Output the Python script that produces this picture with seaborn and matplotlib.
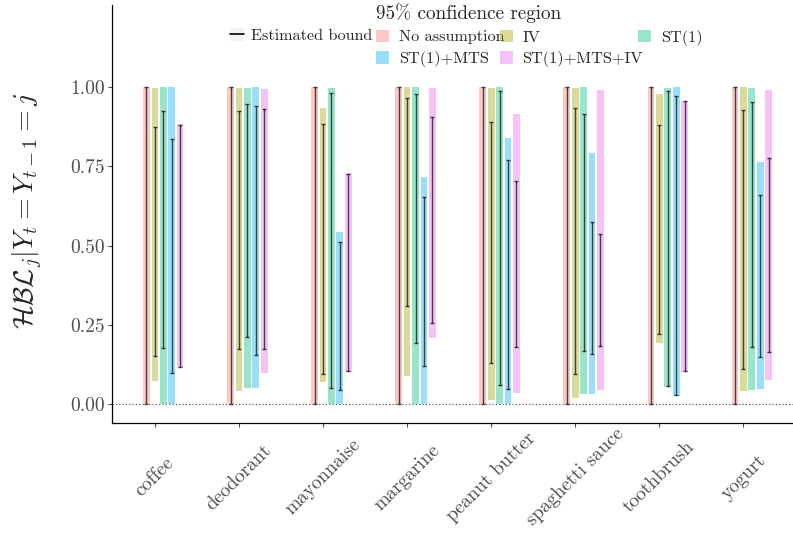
import numpy as np
import pandas as pd
import matplotlib
matplotlib.use("Agg")
import matplotlib.pyplot as plt
from matplotlib.patches import Patch
from matplotlib.lines import Line2D
import seaborn as sns

categories = ["coffee", "deodorant", "mayonnaise", "margarine", "peanut butter",
              "spaghetti sauce", "toothbrush", "yogurt"]
series = ["No assumption", "IV", "ST(1)", "ST(1)+MTS", "ST(1)+MTS+IV"]
colors = ["#F8766D", "#A3A500", "#00BF7D", "#00B0F6", "#E76BF3"]

# 95% confidence region (lower / upper)
ci_lo = {
    "No assumption": [0, 0, 0, 0, 0, 0, 0, 0],
    "IV": [0.073, 0.041, 0.068, 0.089, 0.013, 0.019, 0.193, 0.041],
    "ST(1)": [0, 0.052, 0, 0, 0, 0.032, 0.055, 0.044],
    "ST(1)+MTS": [0, 0.052, 0, 0, 0, 0.032, 0.025, 0.048],
    "ST(1)+MTS+IV": [0.115, 0.099, 0.101, 0.210, 0.035, 0.044, 0.101, 0.076],
}
ci_hi = {
    "No assumption": [1, 1, 1, 1, 1, 1, 1, 1],
    "IV": [0.997, 0.997, 0.934, 1.0, 0.997, 0.997, 0.978, 1.0],
    "ST(1)": [1.0, 0.997, 0.997, 1.0, 1.0, 1.0, 0.997, 0.997],
    "ST(1)+MTS": [1.0, 1.0, 0.544, 0.718, 0.839, 0.794, 1.0, 0.763],
    "ST(1)+MTS+IV": [0.883, 0.994, 0.730, 0.997, 0.915, 0.991, 0.958, 0.991],
}
# estimated bounds (lower / upper)
est_lo = {
    "No assumption": [0, 0, 0, 0, 0, 0, 0, 0],
    "IV": [0.152, 0.173, 0.094, 0.308, 0.131, 0.094, 0.221, 0.110],
    "ST(1)": [0.176, 0.212, 0.052, 0.194, 0.060, 0.168, 0.056, 0.181],
    "ST(1)+MTS": [0.099, 0.154, 0.043, 0.121, 0.046, 0.159, 0.028, 0.147],
    "ST(1)+MTS+IV": [0.117, 0.173, 0.103, 0.256, 0.180, 0.184, 0.103, 0.165],
}
est_hi = {
    "No assumption": [1, 1, 1, 1, 1, 1, 1, 1],
    "IV": [0.874, 0.926, 0.885, 0.966, 0.890, 0.936, 0.882, 0.928],
    "ST(1)": [0.924, 0.948, 0.982, 0.979, 0.989, 0.917, 0.987, 0.955],
    "ST(1)+MTS": [0.837, 0.941, 0.512, 0.654, 0.769, 0.574, 0.973, 0.659],
    "ST(1)+MTS+IV": [0.881, 0.933, 0.727, 0.905, 0.703, 0.537, 0.956, 0.778],
}

rows = []
for s in series:
    for i, c in enumerate(categories):
        rows.append(dict(series=s, category=c, ci_lo=ci_lo[s][i], ci_hi=ci_hi[s][i],
                         est_lo=est_lo[s][i], est_hi=est_hi[s][i]))
df = pd.DataFrame(rows)

sns.set_theme(style="white")
plt.rcParams["font.family"] = ["cmr10", "DejaVu Serif"]
plt.rcParams["mathtext.fontset"] = "cm"
plt.rcParams["axes.formatter.use_mathtext"] = True
plt.rcParams["axes.unicode_minus"] = False

fig = plt.figure(figsize=(7.93, 5.35), dpi=100)
ax = fig.add_axes([112 / 793, (535 - 423) / 535, (793 - 112) / 793, (423 - 5) / 535])

offsets = [-0.1, 0.0, 0.1, 0.2, 0.3]
width = 0.08
xpos = np.arange(len(categories))
for k, s in enumerate(series):
    d = df[df.series == s]
    x = xpos + offsets[k]
    ax.bar(x, d.ci_hi - d.ci_lo, bottom=d.ci_lo, width=width,
           color=colors[k], alpha=0.4, linewidth=0)
    mid = (d.est_hi.values + d.est_lo.values) / 2
    err = (d.est_hi.values - d.est_lo.values) / 2
    ax.errorbar(x, mid, yerr=err, fmt="none", ecolor="black", alpha=0.7,
                elinewidth=1.0, capsize=1.6, capthick=1.0)

ax.axhline(0, color="#444444", linestyle=(0, (1, 2)), linewidth=0.8)

ax.set_xlim(-0.51, 7.59)
ax.set_ylim(-0.06, 1.26)
ax.set_yticks([0, 0.25, 0.5, 0.75, 1.0])
ax.set_yticklabels(["0.00", "0.25", "0.50", "0.75", "1.00"])
ax.set_xticks(xpos)
ax.set_xticklabels(categories, rotation=45, ha="center", va="center",
                   rotation_mode="anchor")
ax.tick_params(axis="y", labelsize=14, colors="#4D4D4D", length=3, width=0.8,
               left=True, pad=2)
ax.tick_params(axis="x", labelsize=14, colors="#4D4D4D", length=3, width=0.8,
               bottom=True, pad=36)
for lab in ax.get_xticklabels() + ax.get_yticklabels():
    lab.set_color("#4D4D4D")

for side in ["top", "right"]:
    ax.spines[side].set_visible(False)
for side in ["left", "bottom"]:
    ax.spines[side].set_color("black")
    ax.spines[side].set_linewidth(0.9)

ax.set_ylabel(r"$\mathcal{HBL}_j|Y_t = Y_{t-1} = j$", fontsize=20)
ax.yaxis.set_label_coords(-0.098, 0.508)
ax.set_xlabel("")

# legends
bounds_handle = (Patch(facecolor="#F2F2F2", edgecolor="none"),
                 Line2D([0.2], [0.5], color="black", linewidth=1.2))
leg1 = ax.legend(handles=[bounds_handle], labels=["Estimated bounds"],
                 loc="upper left", bbox_to_anchor=(230 / 793, 1 - 28 / 535),
                 bbox_transform=fig.transFigure, frameon=False, fontsize=11.7,
                 handlelength=0.85, handleheight=0.85, handletextpad=0.45,
                 borderpad=0, borderaxespad=0)
ax.add_artist(leg1)

order = [0, 3, 1, 4, 2]
fill_handles = [Patch(facecolor=colors[k], alpha=0.4, edgecolor="none") for k in order]
leg2 = ax.legend(handles=fill_handles, labels=[series[k] for k in order], ncol=3,
                 title="95% confidence region", title_fontsize=13.8, fontsize=11.7,
                 alignment="left", loc="upper left",
                 bbox_to_anchor=(373 / 793, 1.0), bbox_transform=fig.transFigure,
                 frameon=True, facecolor="white", edgecolor="none", framealpha=1,
                 fancybox=False, borderpad=0.2, borderaxespad=0,
                 handlelength=0.8, handleheight=0.8, handletextpad=0.6,
                 columnspacing=-0.3, labelspacing=0.4)

fig.savefig("out.png", dpi=100)
